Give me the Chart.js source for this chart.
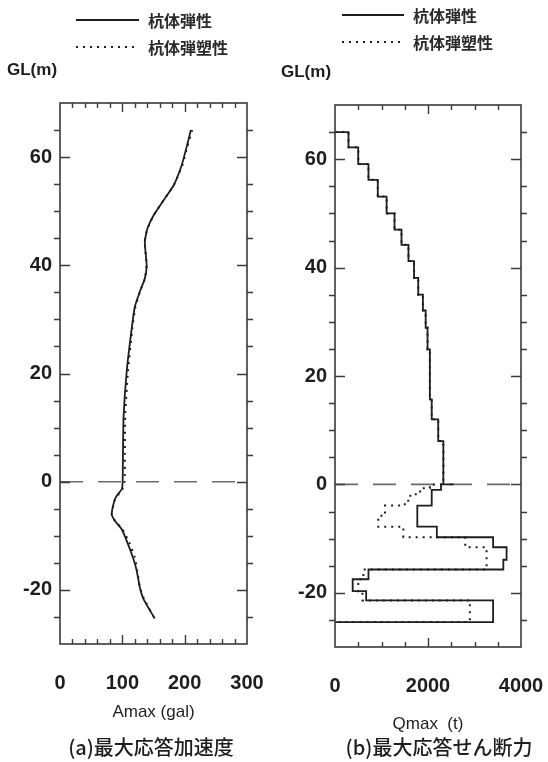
<!DOCTYPE html>
<html>
<head>
<meta charset="utf-8">
<script src="https://cdn.jsdelivr.net/npm/chart.js@4.4.1/dist/chart.umd.min.js"></script>
<style>
  html, body { margin: 0; padding: 0; background: #fff; }
  #wrap { position: relative; width: 548px; height: 762px; }
  canvas { position: absolute; top: 0; }
  #accel { left: 0; }
  #shear { left: 274px; }
</style>
</head>
<body>
<div id="wrap">
  <canvas id="accel" width="274" height="762"></canvas>
  <canvas id="shear" width="274" height="762"></canvas>
</div>
<script>
// (a) peak acceleration along the pile, GL (m) vs gal
const accelDepth = [65, 61.8, 58.4, 54.7, 52, 49.2, 46.7, 44.3, 40, 37.5, 35.1, 32.3, 28.3, 20.4, 12, 5, 0, -1.4, -2.6, -3.6, -6, -7.2, -8.8, -11.2, -14, -16.4, -19.5, -21.7, -25.3];
const accelElastic = [210, 203, 195, 182, 166, 150, 140, 136, 139, 136, 128, 120, 115, 107, 102, 101, 100.5, 99, 91, 87, 83, 88, 99, 108, 117, 123, 128, 134, 152];
const accelPlastic = [212, 204, 196, 182, 166, 150, 140, 136, 139, 136, 128, 121, 116, 109, 104.5, 104, 103.5, 100, 92, 87, 83, 88, 100, 111, 120, 124, 128, 135, 152];

// (b) peak shear per pile segment: segment boundaries (GL m) and value (t)
const shearUpperBounds = [65, 62.2, 59.1, 56.2, 53.1, 50, 47, 44.2, 41.2, 38.1, 35, 32.1, 28.9, 24.9, 15.7, 12, 8, 0];
const shearUpper = [290, 500, 720, 920, 1110, 1280, 1430, 1580, 1700, 1790, 1890, 1950, 1990, 2040, 2080, 2220, 2330];
const shearElasticBounds = [0, 0, -1.0, -3.9, -7.8, -9.75, -11.6, -13.9, -15.7, -17.5, -19.7, -21.4, -25.4];
const shearElastic = [2550, 2280, 2080, 1770, 2190, 3400, 3690, 3620, 720, 380, 670, 3400];
const shearPlasticBounds = [0, -0.7, -1.8, -3.0, -3.9, -5.8, -7.8, -9.75, -11.6, -15.7, -17.5, -19.7, -21.4, -25.4];
const shearPlastic = [2040, 1830, 1620, 1500, 1075, 930, 1470, 2800, 3260, 610, 500, 590, 2900];

const depthTicks = [-20, 0, 20, 40, 60];
const seriesLabels = ['杭体弾性', '杭体弾塑性'];

const numFont = 'Liberation Sans, Arial, sans-serif';
const jpFont = '"Noto Sans CJK JP", sans-serif';
const ink = '#1e1e1e';

function profile(values, depths) {
  return depths.map((d, i) => ({ x: values[i], y: d }));
}

// segment values -> staircase drawn from the pile head down to the toe
function stepProfile(bounds, values) {
  const pts = [{ x: 0, y: bounds[0] }];
  values.forEach((v, i) => {
    pts.push({ x: v, y: bounds[i] }, { x: v, y: bounds[i + 1] });
  });
  pts.push({ x: 0, y: bounds[bounds.length - 1] });
  return pts;
}

// box frame, inward ticks, GL 0 dashed line, legend and captions
const panelDecor = {
  id: 'panelDecor',
  beforeDatasetsDraw(chart) {
    const { ctx, chartArea: a, scales: { y } } = chart;
    const py = y.getPixelForValue(0);
    ctx.save();
    ctx.strokeStyle = '#6a6a6a';
    ctx.lineWidth = 1.6;
    ctx.setLineDash([23, 15]);
    ctx.beginPath();
    ctx.moveTo(a.left, py);
    ctx.lineTo(a.right, py);
    ctx.stroke();
    ctx.restore();
  },
  afterDraw(chart, args, o) {
    const { ctx, chartArea: a, scales: { x, y } } = chart;
    ctx.save();
    ctx.strokeStyle = '#3a3a3a';
    ctx.lineWidth = 1.6;
    ctx.strokeRect(a.left, a.top, a.right - a.left, a.bottom - a.top);

    ctx.lineWidth = 1.4;
    ctx.beginPath();
    const nx = Math.round((x.max - x.min) / o.xMinor);
    for (let i = 1; i < nx; i++) {
      const v = x.min + i * o.xMinor;
      const px = Math.round(x.getPixelForValue(v)) + 0.5;
      const len = v % o.xMajor === 0 ? 9 : 5;
      ctx.moveTo(px, a.top);
      ctx.lineTo(px, a.top + len);
      ctx.moveTo(px, a.bottom);
      ctx.lineTo(px, a.bottom - len);
    }
    const ny = Math.round((y.max - y.min) / 5);
    for (let i = 1; i < ny; i++) {
      const v = y.min + i * 5;
      const py = Math.round(y.getPixelForValue(v)) + 0.5;
      if (depthTicks.includes(v)) {
        ctx.moveTo(a.left, py);
        ctx.lineTo(a.left + 10, py);
        ctx.moveTo(a.right, py);
        ctx.lineTo(a.right - 10, py);
      } else {
        ctx.moveTo(a.left, py);
        ctx.lineTo(a.left - 6, py);
        ctx.moveTo(a.right, py);
        ctx.lineTo(a.right + 6, py);
      }
    }
    ctx.stroke();

    // legend
    chart.data.datasets.forEach((ds, i) => {
      const ly = o.legendY[i];
      ctx.strokeStyle = ds.borderColor;
      ctx.lineWidth = 1.8;
      ctx.setLineDash(ds.borderDash || []);
      ctx.beginPath();
      ctx.moveTo(o.legendX[0], ly);
      ctx.lineTo(o.legendX[1], ly);
      ctx.stroke();
      ctx.setLineDash([]);
      ctx.fillStyle = '#2a2a2a';
      ctx.font = 'bold 16px ' + jpFont;
      ctx.textAlign = 'left';
      ctx.textBaseline = 'middle';
      ctx.fillText(ds.label, o.legendX[1] + 9, ly + 1);
    });

    ctx.fillStyle = ink;
    ctx.font = 'bold 17px ' + numFont;
    ctx.textAlign = 'left';
    ctx.textBaseline = 'middle';
    ctx.fillText('GL(m)', 7, o.unitY);

    ctx.font = '500 20px ' + jpFont;
    ctx.textAlign = 'center';
    ctx.fillText(o.caption, o.captionX, 747);
    ctx.restore();
  }
};

function panelOptions(cfg) {
  return {
    responsive: false,
    animation: false,
    layout: { padding: { top: cfg.top, right: 27, left: 0, bottom: 0 } },
    plugins: {
      legend: { display: false },
      tooltip: { enabled: false },
      panelDecor: cfg.decor
    },
    scales: {
      x: {
        type: 'linear',
        position: 'bottom',
        min: 0,
        max: cfg.xMax,
        grid: { display: false, drawTicks: false },
        border: { display: false },
        ticks: {
          stepSize: cfg.xStep,
          padding: 27,
          maxRotation: 0,
          color: ink,
          font: { family: numFont, size: 20, weight: 'bold' },
          callback: (v) => String(v)
        },
        title: {
          display: true,
          text: cfg.xTitle,
          color: ink,
          font: { family: numFont, size: 17 },
          padding: { top: 0, bottom: cfg.titlePad }
        },
        afterFit(scale) {
          scale.height = cfg.bottom;
          scale.paddingLeft = 0;
          scale.paddingRight = 0;
        }
      },
      y: {
        type: 'linear',
        min: -30,
        max: 70,
        grid: { display: false, drawTicks: false },
        border: { display: false },
        afterBuildTicks(scale) {
          scale.ticks = depthTicks.map((v) => ({ value: v }));
        },
        ticks: {
          padding: 8,
          color: ink,
          font: { family: numFont, size: 20, weight: 'bold' },
          callback: (v) => String(v)
        },
        afterFit(scale) {
          scale.width = cfg.left;
          scale.paddingTop = 0;
          scale.paddingBottom = 0;
        }
      }
    }
  };
}

function lineSet(label, data, dashed, stepped) {
  return {
    label: label,
    data: data,
    showLine: true,
    borderColor: ink,
    borderWidth: dashed ? 2 : 1.8,
    borderDash: dashed ? [2, 5] : [],
    pointRadius: 0,
    tension: stepped ? 0 : 0.15,
    fill: false
  };
}

new Chart(document.getElementById('accel'), {
  type: 'scatter',
  data: {
    datasets: [
      lineSet(seriesLabels[0], profile(accelElastic, accelDepth), false, false),
      lineSet(seriesLabels[1], profile(accelPlastic, accelDepth), true, false)
    ]
  },
  options: panelOptions({
    top: 103, bottom: 118, left: 60,
    xMax: 300, xStep: 100, xTitle: 'Amax (gal)', titlePad: 39,
    decor: {
      xMinor: 20, xMajor: 100,
      legendX: [76, 139], legendY: [20, 47],
      unitY: 70, caption: '(a)最大応答加速度', captionX: 151
    }
  }),
  plugins: [panelDecor]
});

new Chart(document.getElementById('shear'), {
  type: 'scatter',
  data: {
    datasets: [
      lineSet(seriesLabels[0], stepProfile(shearUpperBounds.concat(shearElasticBounds.slice(1)), shearUpper.concat(shearElastic)), false, true),
      lineSet(seriesLabels[1], stepProfile(shearUpperBounds.concat(shearPlasticBounds.slice(1)), shearUpper.concat(shearPlastic)), true, true)
    ]
  },
  options: panelOptions({
    top: 105, bottom: 115, left: 61,
    xMax: 4000, xStep: 2000, xTitle: 'Qmax  (t)', titlePad: 27,
    decor: {
      xMinor: 500, xMajor: 2000,
      legendX: [68, 130], legendY: [15, 42],
      unitY: 72, caption: '(b)最大応答せん断力', captionX: 165
    }
  }),
  plugins: [panelDecor]
});
</script>
</body>
</html>
